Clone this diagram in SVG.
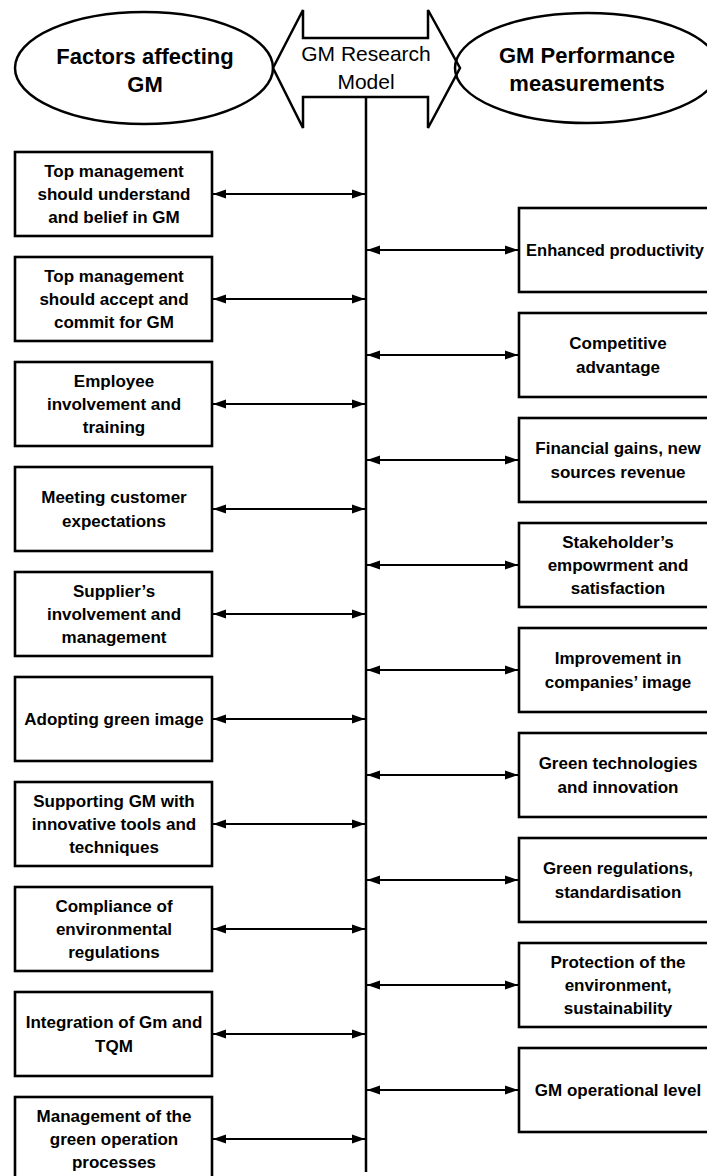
<svg xmlns="http://www.w3.org/2000/svg" width="707" height="1176" viewBox="0 0 707 1176">
<style>
.hdr{font-family:"Liberation Sans",Arial,sans-serif;font-size:22px;font-weight:bold;fill:#000;text-anchor:middle}
.mid{font-family:"Liberation Sans",Arial,sans-serif;font-size:21px;fill:#000;text-anchor:middle}
.bx{fill:#fff;stroke:#000;stroke-width:2.6}
.t{font-family:"Liberation Sans",Arial,sans-serif;font-size:17px;font-weight:bold;fill:#000;text-anchor:middle}
.ln{stroke:#000;stroke-width:2;fill:none;marker-start:url(#ah);marker-end:url(#ah)}
.sh{fill:none;stroke:#000;stroke-width:2.5}
</style>
<defs>
<marker id="ah" markerUnits="userSpaceOnUse" markerWidth="13" markerHeight="10" refX="13" refY="5" orient="auto-start-reverse">
<path d="M0,0.5 L13,5 L0,9.5 z" fill="#000"/>
</marker>
</defs>
<rect width="707" height="1176" fill="#fff"/>
<g id="header-left">
<ellipse class="sh" cx="144" cy="68" rx="129" ry="56"/>
<text class="hdr" x="145" y="64">Factors affecting</text>
<text class="hdr" x="145" y="92">GM</text>
</g>
<g id="header-right">
<ellipse class="sh" cx="587" cy="68" rx="132" ry="55"/>
<text class="hdr" x="587" y="63">GM Performance</text>
<text class="hdr" x="587" y="91">measurements</text>
</g>
<g id="header-model">
<polygon class="sh" points="273,68 303,10 303,38 428,38 428,10 460,68 428,128 428,97 303,97 303,128"/>
<text class="mid" x="366" y="61">GM Research</text>
<text class="mid" x="366" y="89">Model</text>
</g>
<g id="connectors">
<line x1="366" y1="97" x2="366" y2="1172" stroke="#000" stroke-width="2.5"/>
<line class="ln" x1="213" y1="194" x2="365" y2="194"/>
<line class="ln" x1="213" y1="299" x2="365" y2="299"/>
<line class="ln" x1="213" y1="404" x2="365" y2="404"/>
<line class="ln" x1="213" y1="509" x2="365" y2="509"/>
<line class="ln" x1="213" y1="614" x2="365" y2="614"/>
<line class="ln" x1="213" y1="719" x2="365" y2="719"/>
<line class="ln" x1="213" y1="824" x2="365" y2="824"/>
<line class="ln" x1="213" y1="929" x2="365" y2="929"/>
<line class="ln" x1="213" y1="1034" x2="365" y2="1034"/>
<line class="ln" x1="213" y1="1139" x2="365" y2="1139"/>
<line class="ln" x1="367" y1="250" x2="518" y2="250"/>
<line class="ln" x1="367" y1="355" x2="518" y2="355"/>
<line class="ln" x1="367" y1="460" x2="518" y2="460"/>
<line class="ln" x1="367" y1="565" x2="518" y2="565"/>
<line class="ln" x1="367" y1="670" x2="518" y2="670"/>
<line class="ln" x1="367" y1="775" x2="518" y2="775"/>
<line class="ln" x1="367" y1="880" x2="518" y2="880"/>
<line class="ln" x1="367" y1="985" x2="518" y2="985"/>
<line class="ln" x1="367" y1="1090" x2="518" y2="1090"/>
</g>
<g id="L1"><rect class="bx" x="15" y="152" width="197" height="84"/>
<text class="t" x="114" y="177">Top management</text><text class="t" x="114" y="200">should understand</text><text class="t" x="114" y="223">and belief in GM</text></g>
<g id="L2"><rect class="bx" x="15" y="257" width="197" height="84"/>
<text class="t" x="114" y="282">Top management</text><text class="t" x="114" y="305">should accept and</text><text class="t" x="114" y="328">commit for GM</text></g>
<g id="L3"><rect class="bx" x="15" y="362" width="197" height="84"/>
<text class="t" x="114" y="387">Employee</text><text class="t" x="114" y="410">involvement and</text><text class="t" x="114" y="433">training</text></g>
<g id="L4"><rect class="bx" x="15" y="467" width="197" height="84"/>
<text class="t" x="114" y="503">Meeting customer</text><text class="t" x="114" y="527">expectations</text></g>
<g id="L5"><rect class="bx" x="15" y="572" width="197" height="84"/>
<text class="t" x="114" y="597">Supplier’s</text><text class="t" x="114" y="620">involvement and</text><text class="t" x="114" y="643">management</text></g>
<g id="L6"><rect class="bx" x="15" y="677" width="197" height="84"/>
<text class="t" x="114" y="725">Adopting green image</text></g>
<g id="L7"><rect class="bx" x="15" y="782" width="197" height="84"/>
<text class="t" x="114" y="807">Supporting GM with</text><text class="t" x="114" y="830">innovative tools and</text><text class="t" x="114" y="853">techniques</text></g>
<g id="L8"><rect class="bx" x="15" y="887" width="197" height="84"/>
<text class="t" x="114" y="912">Compliance of</text><text class="t" x="114" y="935">environmental</text><text class="t" x="114" y="958">regulations</text></g>
<g id="L9"><rect class="bx" x="15" y="992" width="197" height="84"/>
<text class="t" x="114" y="1028">Integration of Gm and</text><text class="t" x="114" y="1052">TQM</text></g>
<g id="L10"><rect class="bx" x="15" y="1097" width="197" height="84"/>
<text class="t" x="114" y="1122">Management of the</text><text class="t" x="114" y="1145">green operation</text><text class="t" x="114" y="1168">processes</text></g>
<g id="R1"><rect class="bx" x="519" y="208" width="200" height="84"/>
<text class="t" x="615" y="256" style="font-size:16.5px">Enhanced productivity</text></g>
<g id="R2"><rect class="bx" x="519" y="313" width="200" height="84"/>
<text class="t" x="618" y="349">Competitive</text><text class="t" x="618" y="373">advantage</text></g>
<g id="R3"><rect class="bx" x="519" y="418" width="200" height="84"/>
<text class="t" x="618" y="454">Financial gains, new</text><text class="t" x="618" y="478">sources revenue</text></g>
<g id="R4"><rect class="bx" x="519" y="523" width="200" height="84"/>
<text class="t" x="618" y="548">Stakeholder’s</text><text class="t" x="618" y="571">empowrment and</text><text class="t" x="618" y="594">satisfaction</text></g>
<g id="R5"><rect class="bx" x="519" y="628" width="200" height="84"/>
<text class="t" x="618" y="664">Improvement in</text><text class="t" x="618" y="688">companies’ image</text></g>
<g id="R6"><rect class="bx" x="519" y="733" width="200" height="84"/>
<text class="t" x="618" y="769">Green technologies</text><text class="t" x="618" y="793">and innovation</text></g>
<g id="R7"><rect class="bx" x="519" y="838" width="200" height="84"/>
<text class="t" x="618" y="874">Green regulations,</text><text class="t" x="618" y="898">standardisation</text></g>
<g id="R8"><rect class="bx" x="519" y="943" width="200" height="84"/>
<text class="t" x="618" y="968">Protection of the</text><text class="t" x="618" y="991">environment,</text><text class="t" x="618" y="1014">sustainability</text></g>
<g id="R9"><rect class="bx" x="519" y="1048" width="200" height="84"/>
<text class="t" x="618" y="1096">GM operational level</text></g>
</svg>
